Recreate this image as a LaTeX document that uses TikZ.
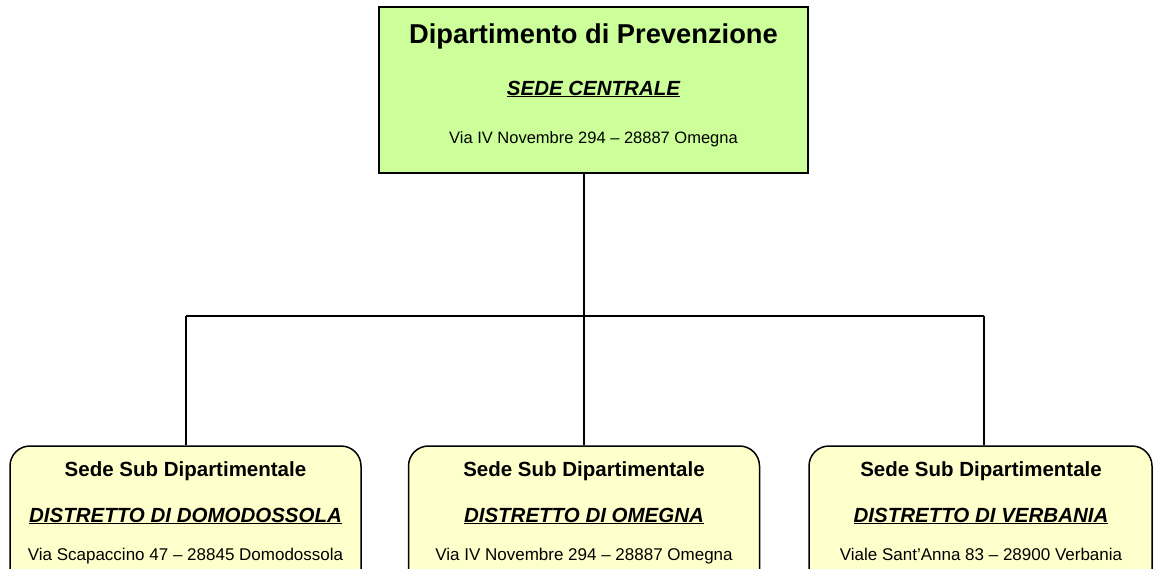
\documentclass[tikz,border=0pt]{standalone}
\usepackage{fontspec}
\setmainfont{Liberation Sans}
\definecolor{boxgreen}{HTML}{CCFF99}
\definecolor{boxyellow}{HTML}{FFFFCC}
\begin{document}
\begin{tikzpicture}[x=1pt,y=-1pt,
  topbox/.style={draw=black,line width=1.5pt,fill=boxgreen,minimum width=429pt,minimum height=166pt,inner sep=0pt},
  subbox/.style={draw=black,line width=1.5pt,fill=boxyellow,rounded corners=20pt,minimum height=170pt,inner sep=0pt},
  conn/.style={draw=black,line width=1.5pt},
  txt/.style={anchor=base,inner sep=0pt}]
\useasboundingbox (0,0) rectangle (1154,568);
\node[topbox] (top) at (593.5,90) {};
\node[subbox,minimum width=351pt] (L) at (185.5,531) {};
\node[subbox,minimum width=351pt] (M) at (584,531) {};
\node[subbox,minimum width=343pt] (R) at (980.5,531) {};
% texts
\node[txt] (t1) at (593.5,43) {\fontsize{27.3}{32}\selectfont\bfseries Dipartimento di Prevenzione};
\node[txt] (t2) at (593.5,95) {\fontsize{20.5}{24}\selectfont\bfseries\itshape\underline{SEDE CENTRALE}};
\node[txt] (t3) at (593.5,143) {\fontsize{16.5}{20}\selectfont Via IV Novembre 294 – 28887 Omegna};
\node[txt] (l1) at (185.5,476) {\fontsize{20.5}{24}\selectfont\bfseries Sede Sub Dipartimentale};
\node[txt] (l2) at (185.5,522) {\fontsize{20.5}{24}\selectfont\bfseries\itshape\underline{DISTRETTO DI DOMODOSSOLA}};
\node[txt] (l3) at (185.5,560) {\fontsize{17}{20}\selectfont Via Scapaccino 47 – 28845 Domodossola};
\node[txt] (m1) at (584,476) {\fontsize{20.5}{24}\selectfont\bfseries Sede Sub Dipartimentale};
\node[txt] (m2) at (584,522) {\fontsize{20.5}{24}\selectfont\bfseries\itshape\underline{DISTRETTO DI OMEGNA}};
\node[txt] (m3) at (584,560) {\fontsize{17}{20}\selectfont Via IV Novembre 294 – 28887 Omegna};
\node[txt] (r1) at (981,476) {\fontsize{20.5}{24}\selectfont\bfseries Sede Sub Dipartimentale};
\node[txt] (r2) at (981,522) {\fontsize{20.5}{24}\selectfont\bfseries\itshape\underline{DISTRETTO DI VERBANIA}};
\node[txt] (r3) at (981,560) {\fontsize{17}{20}\selectfont Viale Sant’Anna 83 – 28900 Verbania};
% connectors
\coordinate (bus) at (584,316);
\coordinate (busL) at (186,316);
\coordinate (busR) at (984,316);
\draw[conn] (bus |- top.south) -- (bus);
\draw[conn] (busL) -- (busR);
\draw[conn] (busL) -- (busL |- L.north);
\draw[conn] (bus) -- (bus |- M.north);
\draw[conn] (busR) -- (busR |- R.north);
\end{tikzpicture}
\end{document}
